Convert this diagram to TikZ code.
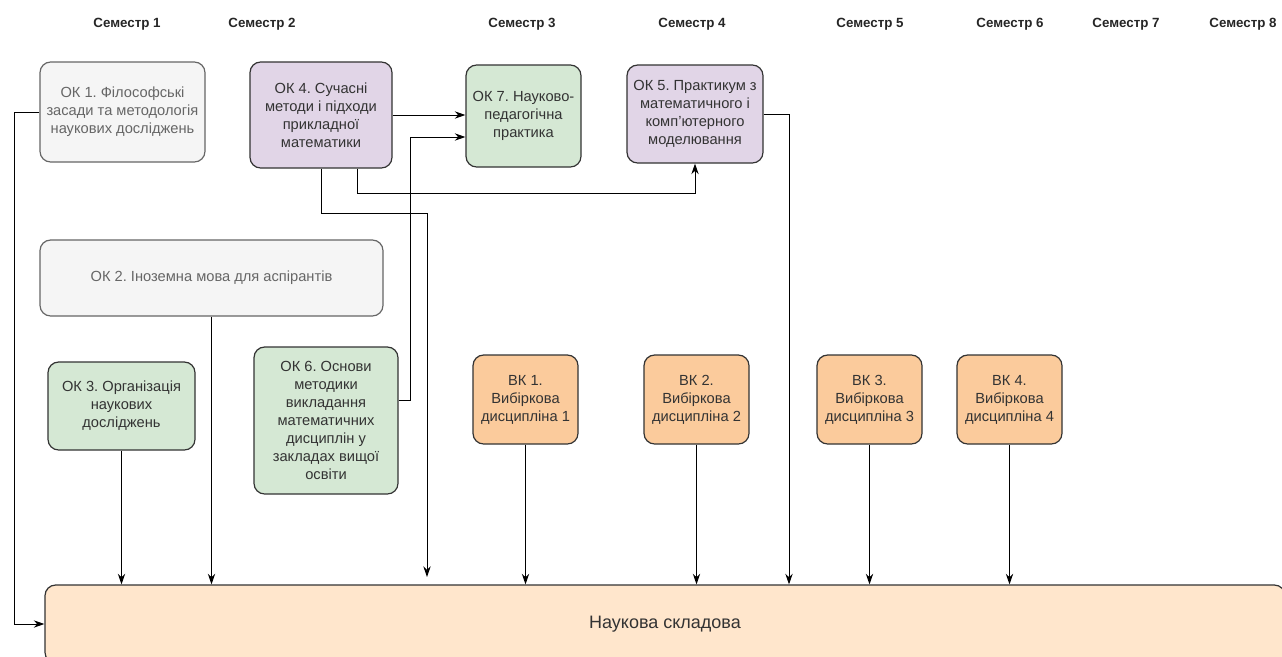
\documentclass[tikz,border=0pt]{standalone}
\usepackage{fontspec}
\setmainfont{Liberation Sans}
\usetikzlibrary{arrows.meta}
\frenchspacing
\definecolor{grayfill}{HTML}{F5F5F5}
\definecolor{graytext}{HTML}{666666}
\definecolor{purplefill}{HTML}{E1D5E7}
\definecolor{greenfill}{HTML}{D5E8D4}
\definecolor{orangefill}{HTML}{FBCB9C}
\definecolor{scifill}{HTML}{FFE6CC}
\definecolor{darkline}{HTML}{333333}
\tikzset{
  box/.style={draw=darkline, line width=0.9pt, rounded corners=8pt, align=center,
    text=darkline, inner sep=2pt, font=\fontsize{11}{13.5}\selectfont},
  graybox/.style={box, fill=grayfill, draw=graytext, text=graytext},
  purplebox/.style={box, fill=purplefill},
  greenbox/.style={box, fill=greenfill},
  vkbox/.style={box, fill=orangefill, minimum width=78.75pt, minimum height=66.75pt},
  sem/.style={font=\fontsize{10}{12}\selectfont\bfseries, text=black!85},
  arr/.style={draw=black, line width=0.75pt, -{Stealth[length=8pt,width=5.5pt]}},
}
\begin{document}
\begin{tikzpicture}[x=0.75pt,y=-0.75pt]
\useasboundingbox (0,0) rectangle (1282,657);
\clip (0,0) rectangle (1282,657);
\fill[white] (0,0) rectangle (1282,657);
% semester labels
\node[sem] (s1) at (127,24) {Семестр 1};
\node[sem] (s2) at (262,24) {Семестр 2};
\node[sem] (s3) at (522,24) {Семестр 3};
\node[sem] (s4) at (692,24) {Семестр 4};
\node[sem] (s5) at (870,24) {Семестр 5};
\node[sem] (s6) at (1010,24) {Семестр 6};
\node[sem] (s7) at (1126,24) {Семестр 7};
\node[sem] (s8) at (1243,24) {Семестр 8};
% boxes
\node[graybox, minimum width=123.75pt, minimum height=75pt] (ok1) at (122.5,112)
  {ОК 1. Філософські\\засади та методологія\\наукових досліджень};
\node[purplebox, minimum width=106.5pt, minimum height=79.5pt] (ok4) at (321,115)
  {ОК 4. Сучасні\\методи і підходи\\прикладної\\математики};
\node[greenbox, minimum width=86.25pt, minimum height=76.5pt] (ok7) at (523.5,116)
  {ОК 7. Науково-\\педагогічна\\практика};
\node[purplebox, minimum width=102pt, minimum height=73.5pt] (ok5) at (695,114)
  {ОК 5. Практикум з\\математичного і\\комп'ютерного\\моделювання};
\node[graybox, minimum width=257.25pt, minimum height=57pt] (ok2) at (211.5,278)
  {ОК 2. Іноземна мова для аспірантів};
\node[greenbox, minimum width=110.25pt, minimum height=66pt] (ok3) at (121.5,406)
  {ОК 3. Організація\\наукових\\досліджень};
\node[greenbox, minimum width=108pt, minimum height=110.25pt] (ok6) at (326,420.5)
  {ОК 6. Основи\\методики\\викладання\\математичних\\дисциплін у\\закладах вищої\\освіти};
\node[vkbox] (vk1) at (525.5,399.5) {ВК 1.\\Вибіркова\\дисципліна 1};
\node[vkbox] (vk2) at (696.5,399.5) {ВК 2.\\Вибіркова\\дисципліна 2};
\node[vkbox] (vk3) at (869.5,399.5) {ВК 3.\\Вибіркова\\дисципліна 3};
\node[vkbox] (vk4) at (1009.5,399.5) {ВК 4.\\Вибіркова\\дисципліна 4};
\node[box, fill=scifill, minimum width=930pt, minimum height=58.5pt,
  font=\fontsize{13.5}{16}\selectfont] (sci) at (665,624) {Наукова складова};
% helper coordinates
\coordinate (l1) at (14,112);
\coordinate (k6) at (410,400);
\coordinate (j1) at (410,137);
\coordinate (j2) at (357,193);
\coordinate (j3) at (427,213);
\coordinate (e3) at (427,577);
\coordinate (j4) at (789,115);
% connectors
\draw[arr] (ok1.west) -- (l1) |- (sci.west);
\draw[arr] (ok4.east) -- (ok7.west |- ok4.east);
\draw[arr] (ok6.east |- k6) -| (j1) -- (ok7.west |- j1);
\draw[arr] (ok4.south -| j2) -- (j2) -| (ok5.south);
\draw[arr] (ok4.south) |- (j3) -- (e3);
\draw[arr] (ok5.east) -| (sci.north -| j4);
\draw[arr] (ok3.south) -- (ok3.south |- sci.north);
\draw[arr] (ok2.south) -- (ok2.south |- sci.north);
\draw[arr] (vk1.south) -- (vk1.south |- sci.north);
\draw[arr] (vk2.south) -- (vk2.south |- sci.north);
\draw[arr] (vk3.south) -- (vk3.south |- sci.north);
\draw[arr] (vk4.south) -- (vk4.south |- sci.north);
\end{tikzpicture}
\end{document}
